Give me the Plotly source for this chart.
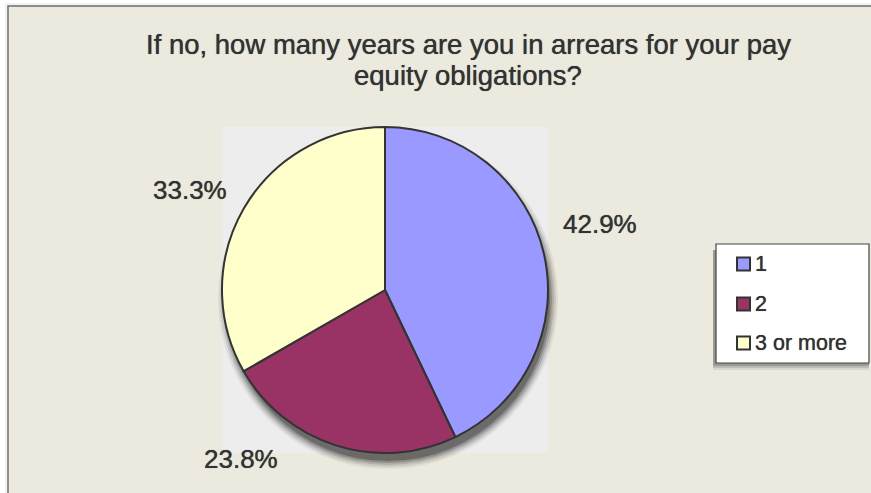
import plotly.graph_objects as go

# Survey answers (share of respondents)
categories = ["1", "2", "3 or more"]
values = [42.9, 23.8, 33.3]
colors = ["#9999FF", "#993366", "#FFFFCC"]
title_lines = ["If no, how many years are you in arrears for your pay",
               "equity obligations?"]

W, H = 871, 493
FONT = "Liberation Sans, Arial, Helvetica, sans-serif"
INK = "#333333"
HEAVY = "0px 0px 0.7px #333333"   # slightly thickens the strokes


def px(x):
    return x / W


def py(y):
    return 1 - y / H


# pie box in pixels
pl, pt, pr, pb = 222, 127, 548, 453
cx, cy, r = (pl + pr) / 2, (pt + pb) / 2, (pr - pl) / 2

fig = go.Figure()
fig.add_trace(go.Pie(
    labels=categories,
    values=values,
    sort=False,
    direction="clockwise",
    rotation=0,
    marker=dict(colors=colors, line=dict(color=INK, width=2)),
    textinfo="none",
    hoverinfo="label+percent",
    showlegend=False,
    domain=dict(x=[px(pl), px(pr)], y=[py(pb), py(pt)]),
))

shapes = []
# outer frame with a soft edge on the left
shapes.append(dict(type="rect", xref="paper", yref="paper", layer="below",
                   x0=px(5), x1=1.05, y0=-0.05, y1=py(3),
                   fillcolor="#F2F2F2", line=dict(width=0)))
shapes.append(dict(type="rect", xref="paper", yref="paper", layer="below",
                   x0=px(8), x1=1.05, y0=-0.05, y1=py(6),
                   fillcolor="#ECE9DF", line=dict(color="#6E6E6E", width=1.5)))
# plot area
shapes.append(dict(type="rect", xref="paper", yref="paper", layer="below",
                   x0=px(pl), x1=px(pr), y0=py(pb), y1=py(pt),
                   fillcolor="#EDEDED", line=dict(width=0)))
# drop shadow under the pie, falling below and slightly right
ox, oy = 3, 9
for k, op in [(7, 0.06), (5, 0.09), (3, 0.13), (1, 0.18), (-1, 0.25)]:
    shapes.append(dict(type="circle", xref="paper", yref="paper", layer="below",
                       x0=px(cx + ox - r - k), x1=px(cx + ox + r + k),
                       y0=py(cy + oy + r + k), y1=py(cy + oy - r - k),
                       fillcolor="black", opacity=op, line=dict(width=0)))

# legend box with shadow
lx0, ly0, lx1, ly1 = 716, 244, 869, 363
for k, op in [(7, 0.08), (5, 0.12), (3, 0.18)]:
    shapes.append(dict(type="rect", xref="paper", yref="paper",
                       x0=px(lx0 - 3), x1=px(lx1),
                       y0=py(ly1 + k), y1=py(ly0 + 6),
                       fillcolor="black", opacity=op, line=dict(width=0)))
shapes.append(dict(type="rect", xref="paper", yref="paper",
                   x0=px(lx0), x1=px(lx1), y0=py(ly1), y1=py(ly0),
                   fillcolor="white", line=dict(color="#444444", width=1.2)))

annotations = []
item_y = [264, 304, 343]
for cat, col, yy in zip(categories, colors, item_y):
    shapes.append(dict(type="rect", xref="paper", yref="paper",
                       x0=px(737), x1=px(750), y0=py(yy + 6.5), y1=py(yy - 6.5),
                       fillcolor=col, line=dict(color=INK, width=2)))
    annotations.append(dict(text=cat, xref="paper", yref="paper",
                            x=px(753), y=py(yy), xanchor="left", yanchor="middle",
                            showarrow=False,
                            font=dict(family=FONT, size=21.5, color=INK, shadow=HEAVY)))

# title, two centred lines
for line, yc in zip(title_lines, [44.5, 75.5]):
    annotations.append(dict(text=line, xref="paper", yref="paper",
                            x=px(468), y=py(yc), xanchor="center", yanchor="middle",
                            showarrow=False,
                            font=dict(family=FONT, size=27.5, color=INK, shadow=HEAVY)))

# percentage labels outside the slices
label_pos = [(600, 224), (241, 459), (189.5, 190)]
for v, (lx, ly) in zip(values, label_pos):
    annotations.append(dict(text=f"{v:.1f}%", xref="paper", yref="paper",
                            x=px(lx), y=py(ly), xanchor="center", yanchor="middle",
                            showarrow=False,
                            font=dict(family=FONT, size=26, color=INK, shadow=HEAVY)))

fig.update_layout(
    width=W, height=H,
    margin=dict(l=0, r=0, t=0, b=0),
    paper_bgcolor="white",
    plot_bgcolor="white",
    shapes=shapes,
    annotations=annotations,
    showlegend=False,
)

fig.write_html("out.html")
